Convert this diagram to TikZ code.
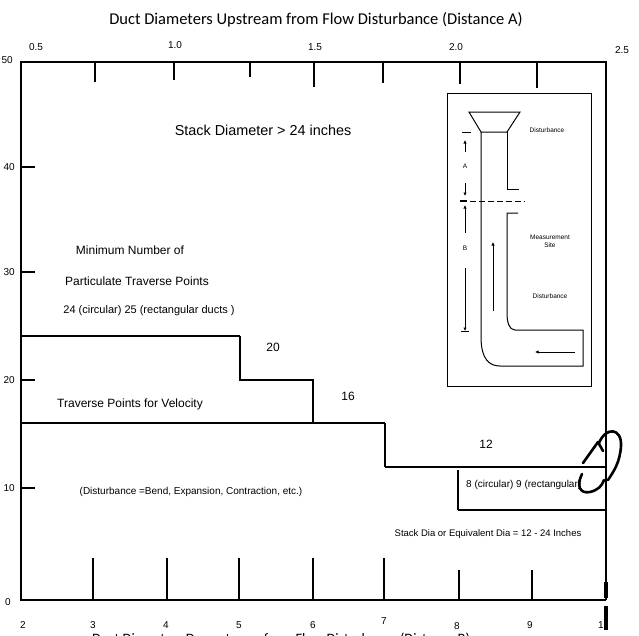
\documentclass[tikz,border=0pt]{standalone}
\usepackage{fontspec}
\setmainfont{Liberation Sans}
\newfontfamily\titlefont{Carlito}
\usetikzlibrary{arrows.meta}
\begin{document}
\begin{tikzpicture}[x=1pt,y=-1pt,
  axisline/.style={line width=2pt},
  frameline/.style={line width=1.1pt},
  stepline/.style={line width=1.4pt},
  thickstep/.style={line width=2.2pt},
  tickmark/.style={line width=1.3pt},
  numlabel/.style={font=\fontsize{10}{12}\selectfont, inner sep=0pt},
  plottext/.style={font=\fontsize{12}{14}\selectfont, inner sep=0pt},
  smalltext/.style={font=\fontsize{10}{12}\selectfont, inner sep=0pt},
  insettext/.style={font=\fontsize{6.5}{8}\selectfont, inner sep=0pt, align=center},
  insetline/.style={line width=1pt},
  dimarrow/.style={line width=0.9pt, -{Latex[length=3.5pt,width=3.5pt]}},
  scribble/.style={line width=2.6pt, line cap=round, line join=round},
]
\useasboundingbox (0,0) rectangle (639,635);

% titles
\node[font=\titlefont\fontsize{16.5}{18}\selectfont, inner sep=0pt] (toptitle) at (316,20) {Duct Diameters Upstream from Flow Disturbance (Distance A)};
\node[font=\titlefont\fontsize{14.4}{16}\selectfont, inner sep=0pt, anchor=north] (bottitle) at (281,633) {Duct Diameters Downstream from Flow Disturbance (Distance B)};

% frame and axes
\draw[axisline] (20,62) -- (607,62);
\draw[line width=2.2pt] (20,600) -- (606,600);
\draw[frameline] (21,62) -- (21,600);
\draw[line width=1.8pt] (606,62) -- (606,600);
\draw[line width=3.5pt] (606,582) -- (606,598);
\draw[line width=4pt] (606,606) -- (606,630);

% top ticks
\foreach \x/\l in {95/20,174/18,250/15,314/25,383/21,460/22,537/26}
  \draw[tickmark] (\x,62) -- ++(0,\l);
% bottom ticks
\foreach \x/\t in {93/558,167/558,239/558,313/558,384/558,459/570,532/570}
  \draw[tickmark] (\x,600) -- (\x,\t);
% left ticks
\foreach \y in {167,272,380,488}
  \draw[tickmark] (21,\y) -- (35,\y);

% top labels
\node[numlabel] (ta) at (36,47) {0.5};
\node[numlabel] (tb) at (175,45) {1.0};
\node[numlabel] (tc) at (315,47) {1.5};
\node[numlabel] (td) at (456,47) {2.0};
\node[numlabel] (te) at (622,50) {2.5};
% left labels
\node[numlabel, anchor=east] (l50) at (13,60) {50};
\node[numlabel, anchor=east] (l40) at (15,167) {40};
\node[numlabel, anchor=east] (l30) at (15,272) {30};
\node[numlabel, anchor=east] (l20) at (15,380) {20};
\node[numlabel, anchor=east] (l10) at (15,488) {10};
\node[numlabel, anchor=east] (l0) at (11,602) {0};
% bottom labels
\node[numlabel] (b2) at (23,625) {2};
\node[numlabel] (b3) at (93,625) {3};
\node[numlabel] (b4) at (166,625) {4};
\node[numlabel] (b5) at (239,625) {5};
\node[numlabel] (b6) at (313,625) {6};
\node[numlabel] (b7) at (384,621) {7};
\node[numlabel] (b8) at (457,626) {8};
\node[numlabel] (b9) at (530,625) {9};
\node[numlabel] (b10) at (601,625) {1};

% step lines
\draw[stepline] (20,336) -- (240,336);
\draw[stepline] (240,336) -- (240,380) -- (313,380) -- (313,423);
\draw[thickstep] (20,423) -- (385,423);
\draw[stepline] (385,423) -- (385,467);
\draw[thickstep] (385,467) -- (606,467);
\draw[stepline] (458,470) -- (458,510);
\draw[thickstep] (458,510) -- (606,510);

% plot texts
\node[font=\fontsize{14.4}{16}\selectfont, inner sep=0pt] (stack) at (263,130) {Stack Diameter > 24 inches};
\node[plottext] (minnum) at (130,250) {Minimum Number of};
\node[plottext] (partic) at (137,281) {Particulate Traverse Points};
\node[font=\fontsize{11}{13}\selectfont, inner sep=0pt] (p24) at (149,311) {24 (circular) 25 (rectangular ducts )};
\node[plottext] (p20) at (273,347) {20};
\node[plottext] (p16) at (348,396) {16};
\node[plottext] (velo) at (130,404) {Traverse Points for Velocity};
\node[plottext] (p12) at (486,444) {12};
\node[font=\fontsize{10}{12}\selectfont, inner sep=0pt, anchor=west] (p8) at (466,485) {8 (circular) 9 (rectangular)};
\node[smalltext] (dist) at (191,492) {(Disturbance =Bend, Expansion, Contraction, etc.)};
\node[font=\fontsize{9.5}{11}\selectfont, inner sep=0pt] (range) at (488,534) {Stack Dia or Equivalent Dia = 12 - 24 Inches};

% inset
\draw[insetline] (447,93) rectangle (591,386);
\draw[insetline] (469,112) -- (520,112) -- (507,132) -- (481,132) -- cycle;
\draw[insetline] (481,132) -- (481,337) .. controls (481,360) and (490,366) .. (500,366) -- (583,366) -- (583,330) -- (515,330) .. controls (509,330) and (507,322) .. (507,313) -- (507,213) -- (518,213);
\draw[insetline] (507,132) -- (507,189) -- (519,189);
\draw[line width=1.6pt] (460,201) -- (467,201);
\draw[line width=1pt, dash pattern=on 6pt off 3pt] (470,201) -- (525,201);
\draw[line width=0.8pt] (462,132) -- (471,132);
\coordinate (a1s) at (465,152); \coordinate (a1e) at (465,140);
\coordinate (a2s) at (465,183); \coordinate (a2e) at (465,196);
\draw[dimarrow] (a1s) -- (a1e);
\draw[dimarrow] (a2s) -- (a2e);
\node[insettext] (lblA) at (465,166) {A};
\coordinate (b1s) at (465,233); \coordinate (b1e) at (465,205);
\coordinate (b2s) at (465,268); \coordinate (b2e) at (465,331);
\draw[dimarrow] (b1s) -- (b1e);
\draw[dimarrow] (b2s) -- (b2e);
\draw[line width=1pt] (461,331) -- (469,331);
\node[insettext] (lblB) at (465,248) {B};
\coordinate (f1s) at (493,311); \coordinate (f1e) at (493,242);
\coordinate (f2s) at (575,352); \coordinate (f2e) at (535,352);
\draw[dimarrow] (f1s) -- (f1e);
\draw[dimarrow] (f2s) -- (f2e);
\node[insettext] (dist1) at (547,130) {Disturbance};
\node[insettext] (meas) at (550,241) {Measurement\\Site};
\node[insettext] (dist2) at (550,296) {Disturbance};

% hand-drawn mark
\draw[scribble] (599,443) .. controls (606,426) and (622,428) .. (621,446) .. controls (620,462) and (614,471) .. (608,480);
\draw[scribble] (583,463) -- (598,442) -- (603,451);
\draw[scribble] (582,474) .. controls (576,486) and (580,494) .. (590,492) .. controls (598,490) and (602,486) .. (604,480);
\end{tikzpicture}
\end{document}
